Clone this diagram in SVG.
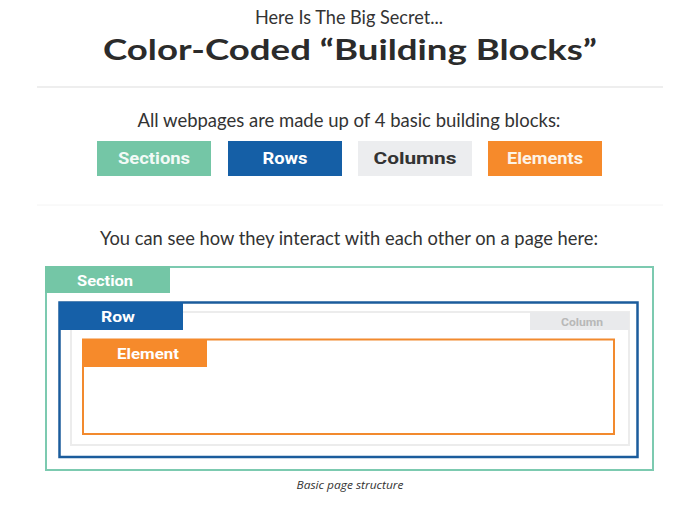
<svg xmlns="http://www.w3.org/2000/svg" width="700" height="511" viewBox="0 0 700 511">
<style>
.head{font-family:Lato,"Open Sans",sans-serif;fill:#333;text-anchor:middle}
.title{font-family:Lato,"Open Sans",sans-serif;font-weight:bold;fill:#2b2b2b;text-anchor:middle}
.btn{font-family:Roboto,"Liberation Sans",sans-serif;font-weight:bold;font-size:16px;text-anchor:middle}
.lbl{font-family:Roboto,"Liberation Sans",sans-serif;font-weight:bold;font-size:15px;fill:#fff;text-anchor:middle}
.box{fill:none}
</style>
<rect width="700" height="511" fill="#fff"/>
<text class="head" x="349" y="24" font-size="19" textLength="188" lengthAdjust="spacingAndGlyphs">Here Is The Big Secret...</text>
<text class="title" x="350" y="60" font-size="29" textLength="494" lengthAdjust="spacingAndGlyphs">Color-Coded “Building Blocks”</text>
<line x1="37" y1="87" x2="663" y2="87" stroke="#dddddd" stroke-width="1"/>
<text class="head" x="349" y="127" font-size="19" textLength="423" lengthAdjust="spacingAndGlyphs">All webpages are made up of 4 basic building blocks:</text>
<g id="btn-sections"><rect x="97" y="141" width="114" height="35" fill="#74c6a6"/><text class="btn" x="154" y="164" fill="#f2faf6" textLength="72" lengthAdjust="spacingAndGlyphs">Sections</text></g>
<g id="btn-rows"><rect x="228" y="141" width="114" height="35" fill="#155fa6"/><text class="btn" x="285" y="164" fill="#fff" textLength="45" lengthAdjust="spacingAndGlyphs">Rows</text></g>
<g id="btn-columns"><rect x="358" y="141" width="114" height="35" fill="#ecedef"/><text class="btn" x="415" y="164" fill="#333" textLength="83" lengthAdjust="spacingAndGlyphs">Columns</text></g>
<g id="btn-elements"><rect x="488" y="141" width="114" height="35" fill="#f68a2b"/><text class="btn" x="545" y="164" fill="#fdf3e6" textLength="76" lengthAdjust="spacingAndGlyphs">Elements</text></g>
<line x1="37" y1="205" x2="663" y2="205" stroke="#f4f4f4" stroke-width="1"/>
<text class="head" x="349" y="245" font-size="19" textLength="498" lengthAdjust="spacingAndGlyphs">You can see how they interact with each other on a page here:</text>
<g id="section"><rect class="box" x="46" y="267" width="607" height="203" stroke="#7ccab0" stroke-width="2"/><rect x="45" y="266" width="125" height="27" fill="#74c6a6"/><text class="lbl" x="105" y="286" textLength="56" lengthAdjust="spacingAndGlyphs">Section</text></g>
<g id="column"><rect class="box" x="71" y="312" width="558" height="133" stroke="#ececec" stroke-width="2"/><rect x="530" y="312" width="99" height="18" fill="#e9eaec"/><text x="582" y="325.5" font-family="Roboto,'Liberation Sans',sans-serif" font-size="11" font-weight="bold" fill="#b8b8b8" text-anchor="middle" textLength="42" lengthAdjust="spacingAndGlyphs">Column</text></g>
<g id="row"><rect class="box" x="59.5" y="302.5" width="578" height="154.5" stroke="#1b5c9c" stroke-width="2.5"/><rect x="59" y="302" width="124" height="28" fill="#1660a8"/><text class="lbl" x="118" y="322" textLength="34" lengthAdjust="spacingAndGlyphs">Row</text></g>
<g id="element"><rect class="box" x="83" y="339.5" width="531" height="94.5" stroke="#f28a2e" stroke-width="2"/><rect x="82" y="339" width="125" height="28" fill="#f68a2b"/><text class="lbl" x="148" y="359" textLength="62" lengthAdjust="spacingAndGlyphs">Element</text></g>
<text x="350" y="489" font-family="'Open Sans',sans-serif" font-style="italic" font-size="11.5" fill="#333" text-anchor="middle" textLength="107" lengthAdjust="spacingAndGlyphs">Basic page structure</text>
</svg>
